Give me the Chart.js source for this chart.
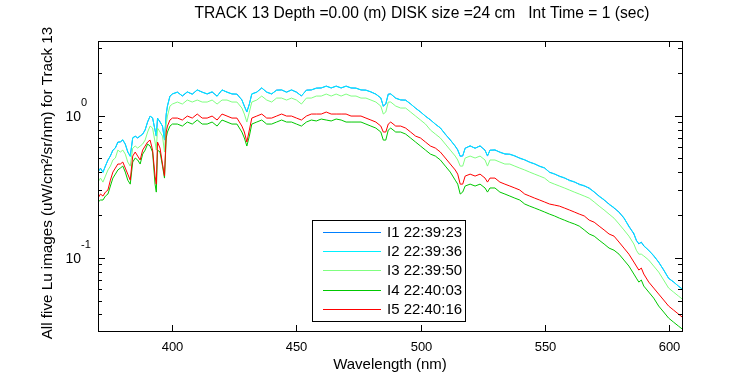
<!DOCTYPE html>
<html>
<head>
<meta charset="utf-8">
<script src="https://cdn.jsdelivr.net/npm/chart.js@4"></script>
<style>
  html, body { margin: 0; padding: 0; background: #fff; }
  #chart { display: block; }
</style>
</head>
<body>
<canvas id="chart" width="750" height="375"></canvas>
<script>
// wavelength grid (nm), denser around absorption lines
const wavelengths = [
  370, 371, 372, 373, 374, 375, 376, 377, 378, 379,
  380, 381, 382, 383, 384, 385, 386, 387, 388, 389,
  390, 391, 392, 393, 393.5, 394, 395, 396, 396.8, 397.5,
  398, 399, 400, 402, 404, 406, 408, 410, 412, 414,
  416, 418, 420, 422, 424, 426, 428, 429, 430, 431,
  432, 434, 436, 438, 440, 442, 444, 446, 448, 450,
  452, 454, 456, 458, 460, 462, 464, 466, 468, 470,
  472, 474, 476, 478, 480, 482, 484, 485, 486, 487,
  488, 490, 492, 494, 496, 498, 500, 502, 504, 506,
  508, 510, 512, 514, 515, 516, 517, 518, 520, 522,
  524, 526, 527, 528, 530, 532, 534, 536, 538, 540,
  542, 544, 546, 548, 550, 552, 554, 556, 558, 560,
  562, 564, 566, 568, 570, 572, 574, 576, 578, 580,
  582, 584, 586, 587, 588, 589, 590, 592, 594, 596,
  598, 600, 602, 604, 606
];

const lu1 = [
  0.401, 0.428, 0.401, 0.442, 0.488, 0.520, 0.573, 0.592, 0.653, 0.653,
  0.674, 0.632, 0.555, 0.520, 0.697, 0.719, 0.697, 0.719, 0.743, 0.793,
  0.903, 0.995, 0.963, 0.793, 0.719, 0.963, 0.903, 0.846, 0.674, 1.028,
  1.170, 1.376, 1.422, 1.469, 1.376, 1.469, 1.422, 1.517, 1.469, 1.422,
  1.469, 1.376, 1.517, 1.469, 1.422, 1.422, 1.290, 1.170, 1.062, 1.209,
  1.422, 1.469, 1.567, 1.469, 1.422, 1.517, 1.517, 1.469, 1.517, 1.469,
  1.376, 1.517, 1.517, 1.567, 1.567, 1.619, 1.567, 1.619, 1.567, 1.619,
  1.567, 1.567, 1.517, 1.517, 1.469, 1.422, 1.332, 1.170, 1.209, 1.422,
  1.422, 1.332, 1.290, 1.290, 1.209, 1.133, 1.062, 0.995, 0.933, 0.874,
  0.819, 0.743, 0.674, 0.612, 0.573, 0.520, 0.520, 0.592, 0.612, 0.592,
  0.612, 0.573, 0.520, 0.573, 0.573, 0.555, 0.537, 0.537, 0.520, 0.504,
  0.488, 0.472, 0.457, 0.442, 0.428, 0.401, 0.388, 0.376, 0.364, 0.352,
  0.341, 0.330, 0.320, 0.310, 0.290, 0.272, 0.255, 0.239, 0.224, 0.210,
  0.190, 0.167, 0.147, 0.133, 0.125, 0.129, 0.121, 0.113, 0.103, 0.0933,
  0.0819, 0.0719, 0.0674, 0.0632, 0.0592
];

const lu2 = [
  0.405, 0.425, 0.398, 0.446, 0.485, 0.524, 0.569, 0.597, 0.648, 0.658,
  0.679, 0.628, 0.559, 0.516, 0.702, 0.714, 0.701, 0.724, 0.738, 0.798,
  0.909, 0.990, 0.969, 0.788, 0.724, 0.957, 0.909, 0.841, 0.679, 1.022,
  1.177, 1.368, 1.430, 1.461, 1.384, 1.476, 1.414, 1.525, 1.461, 1.430,
  1.477, 1.368, 1.525, 1.461, 1.430, 1.414, 1.297, 1.163, 1.068, 1.202,
  1.430, 1.461, 1.575, 1.461, 1.430, 1.509, 1.525, 1.461, 1.525, 1.461,
  1.384, 1.509, 1.525, 1.559, 1.575, 1.611, 1.575, 1.611, 1.575, 1.611,
  1.575, 1.559, 1.525, 1.509, 1.477, 1.414, 1.340, 1.163, 1.216, 1.414,
  1.430, 1.325, 1.297, 1.283, 1.216, 1.127, 1.068, 0.989, 0.939, 0.869,
  0.824, 0.738, 0.679, 0.608, 0.577, 0.516, 0.524, 0.588, 0.616, 0.588,
  0.616, 0.569, 0.524, 0.569, 0.577, 0.551, 0.541, 0.533, 0.524, 0.500,
  0.491, 0.469, 0.460, 0.439, 0.431, 0.398, 0.391, 0.373, 0.367, 0.349,
  0.344, 0.327, 0.323, 0.307, 0.292, 0.270, 0.257, 0.237, 0.226, 0.208,
  0.192, 0.165, 0.149, 0.132, 0.126, 0.128, 0.122, 0.112, 0.104, 0.0926,
  0.0825, 0.0713, 0.0679, 0.0627, 0.0597
];

const lu3 = [
  0.341, 0.364, 0.341, 0.376, 0.415, 0.442, 0.488, 0.504, 0.573, 0.555,
  0.573, 0.537, 0.472, 0.442, 0.592, 0.612, 0.592, 0.612, 0.632, 0.674,
  0.768, 0.846, 0.819, 0.653, 0.573, 0.819, 0.768, 0.719, 0.555, 0.874,
  0.995, 1.170, 1.209, 1.249, 1.209, 1.290, 1.249, 1.290, 1.249, 1.249,
  1.290, 1.209, 1.290, 1.290, 1.249, 1.249, 1.133, 1.028, 0.903, 1.062,
  1.249, 1.290, 1.376, 1.290, 1.249, 1.332, 1.332, 1.290, 1.332, 1.290,
  1.209, 1.332, 1.332, 1.376, 1.376, 1.422, 1.376, 1.422, 1.376, 1.422,
  1.376, 1.376, 1.332, 1.332, 1.290, 1.249, 1.170, 1.028, 1.062, 1.249,
  1.249, 1.170, 1.133, 1.133, 1.062, 0.995, 0.933, 0.874, 0.793, 0.743,
  0.697, 0.632, 0.573, 0.520, 0.488, 0.442, 0.442, 0.504, 0.520, 0.504,
  0.520, 0.488, 0.442, 0.488, 0.488, 0.472, 0.457, 0.457, 0.442, 0.428,
  0.415, 0.401, 0.388, 0.376, 0.364, 0.341, 0.330, 0.320, 0.310, 0.300,
  0.290, 0.281, 0.272, 0.263, 0.247, 0.231, 0.217, 0.203, 0.190, 0.173,
  0.157, 0.142, 0.125, 0.113, 0.106, 0.106, 0.103, 0.0963, 0.0874, 0.0793,
  0.0697, 0.0612, 0.0573, 0.0537, 0.0504
];

const lu4 = [
  0.247, 0.255, 0.255, 0.272, 0.281, 0.320, 0.364, 0.388, 0.415, 0.428,
  0.442, 0.401, 0.352, 0.330, 0.472, 0.504, 0.488, 0.457, 0.537, 0.573,
  0.632, 0.612, 0.555, 0.330, 0.290, 0.573, 0.555, 0.442, 0.364, 0.697,
  0.768, 0.846, 0.874, 0.874, 0.846, 0.903, 0.874, 0.933, 0.874, 0.874,
  0.903, 0.846, 0.933, 0.903, 0.874, 0.874, 0.768, 0.697, 0.612, 0.719,
  0.874, 0.903, 0.933, 0.874, 0.874, 0.903, 0.933, 0.903, 0.903, 0.874,
  0.846, 0.903, 0.933, 0.919, 0.948, 0.933, 0.919, 0.948, 0.933, 0.903,
  0.903, 0.903, 0.903, 0.874, 0.846, 0.819, 0.768, 0.674, 0.674, 0.793,
  0.819, 0.768, 0.768, 0.743, 0.697, 0.653, 0.612, 0.573, 0.537, 0.520,
  0.488, 0.442, 0.401, 0.352, 0.330, 0.281, 0.290, 0.320, 0.330, 0.320,
  0.330, 0.310, 0.290, 0.310, 0.310, 0.290, 0.281, 0.272, 0.263, 0.255,
  0.239, 0.231, 0.224, 0.217, 0.210, 0.203, 0.197, 0.190, 0.184, 0.178,
  0.173, 0.167, 0.157, 0.147, 0.142, 0.133, 0.125, 0.117, 0.113, 0.106,
  0.0963, 0.0874, 0.0768, 0.0719, 0.0674, 0.0697, 0.0632, 0.0573, 0.0520, 0.0457,
  0.0415, 0.0376, 0.0352, 0.0330, 0.0310
];

const lu5 = [
  0.263, 0.281, 0.272, 0.290, 0.300, 0.352, 0.401, 0.428, 0.457, 0.457,
  0.472, 0.428, 0.388, 0.352, 0.520, 0.555, 0.520, 0.488, 0.573, 0.612,
  0.653, 0.674, 0.573, 0.376, 0.330, 0.653, 0.592, 0.457, 0.376, 0.768,
  0.846, 0.933, 0.963, 0.963, 0.933, 0.995, 0.963, 1.028, 0.963, 0.963,
  0.995, 0.933, 1.028, 0.995, 0.963, 0.963, 0.846, 0.768, 0.653, 0.793,
  0.963, 0.995, 1.028, 0.963, 0.963, 0.995, 1.028, 0.995, 0.995, 0.963,
  0.933, 0.995, 1.028, 1.028, 1.028, 1.062, 1.028, 1.028, 1.028, 1.028,
  0.995, 0.995, 0.995, 0.963, 0.933, 0.903, 0.846, 0.768, 0.768, 0.874,
  0.903, 0.846, 0.846, 0.819, 0.768, 0.719, 0.697, 0.653, 0.612, 0.592,
  0.555, 0.504, 0.457, 0.415, 0.388, 0.330, 0.330, 0.376, 0.388, 0.376,
  0.388, 0.364, 0.341, 0.364, 0.364, 0.341, 0.330, 0.320, 0.310, 0.300,
  0.281, 0.272, 0.263, 0.255, 0.247, 0.239, 0.235, 0.231, 0.224, 0.217,
  0.210, 0.203, 0.197, 0.184, 0.178, 0.167, 0.157, 0.147, 0.142, 0.129,
  0.117, 0.106, 0.0933, 0.0874, 0.0819, 0.0846, 0.0768, 0.0674, 0.0612, 0.0555,
  0.0504, 0.0457, 0.0428, 0.0401, 0.0376
];

const seriesNames = ['I1 22:39:23', 'I2 22:39:36', 'I3 22:39:50', 'I4 22:40:03', 'I5 22:40:16'];
const seriesColors = ['#0080ff', '#00f0ff', '#80ff80', '#00c800', '#ff0000'];
const seriesValues = [lu1, lu2, lu3, lu4, lu5];

const xTicks = [400, 450, 500, 550, 600];
const xRange = [370, 605.4];
const yRange = [0.0305, 3.36];
const yLabelExps = [-1, 0];

const titleText = 'TRACK 13 Depth =0.00 (m) DISK size =24 cm   Int Time = 1 (sec)';
const xTitle = 'Wavelength (nm)';
const yTitle = 'All five Lu images (uW/cm\u00b2/sr/nm) for Track 13';

const FONT = '"Liberation Sans", Arial, sans-serif';

const matlabFrame = {
  id: 'matlabFrame',
  beforeDraw(chart) {
    const ctx = chart.ctx;
    ctx.save();
    ctx.fillStyle = '#fff';
    ctx.fillRect(0, 0, chart.width, chart.height);
    ctx.restore();
  },
  afterDraw(chart) {
    const { ctx, chartArea: a, scales: { x, y } } = chart;
    ctx.save();
    ctx.strokeStyle = '#000';
    ctx.fillStyle = '#000';
    ctx.lineWidth = 1;

    ctx.strokeRect(a.left + 0.5, a.top + 0.5, a.right - a.left, a.bottom - a.top);

    // x ticks, inward on bottom and top
    ctx.font = '13px ' + FONT;
    ctx.textAlign = 'center';
    ctx.textBaseline = 'middle';
    xTicks.forEach(v => {
      const px = Math.round(x.getPixelForValue(v)) + 0.5;
      ctx.beginPath();
      ctx.moveTo(px, a.bottom);
      ctx.lineTo(px, a.bottom - 6);
      ctx.moveTo(px, a.top);
      ctx.lineTo(px, a.top + 6);
      ctx.stroke();
      ctx.fillText(String(v), px, a.bottom + 16);
    });

    // log y ticks, majors at decades
    for (let e = -2; e <= 0; e++) {
      for (let k = 1; k <= 9; k++) {
        const v = k * Math.pow(10, e);
        if (v < yRange[0] || v > yRange[1]) continue;
        const py = Math.round(y.getPixelForValue(v)) + 0.5;
        const len = k === 1 ? 7 : 4;
        ctx.beginPath();
        ctx.moveTo(a.left, py);
        ctx.lineTo(a.left + len, py);
        ctx.moveTo(a.right, py);
        ctx.lineTo(a.right - len, py);
        ctx.stroke();
      }
    }
    yLabelExps.forEach(e => {
      const py = y.getPixelForValue(Math.pow(10, e));
      ctx.font = '14px ' + FONT;
      ctx.textAlign = 'right';
      ctx.textBaseline = 'middle';
      ctx.fillText('10', 81, py + 1);
      ctx.font = '11px ' + FONT;
      ctx.textAlign = 'left';
      ctx.fillText(String(e), 81, py - 13);
    });

    // titles
    ctx.font = '15.6px ' + FONT;
    ctx.textAlign = 'center';
    ctx.textBaseline = 'middle';
    ctx.fillText(titleText, 422, 14);
    ctx.font = '15px ' + FONT;
    ctx.fillText(xTitle, (a.left + a.right) / 2, 365);
    ctx.save();
    ctx.translate(48, 183);
    ctx.rotate(-Math.PI / 2);
    ctx.font = '15.2px ' + FONT;
    ctx.fillText(yTitle, 0, 0);
    ctx.restore();

    // legend box
    const lx = 312, ly = 220, lw = 153, lh = 101;
    ctx.fillStyle = '#fff';
    ctx.fillRect(lx, ly, lw, lh);
    ctx.strokeStyle = '#000';
    ctx.strokeRect(lx + 0.5, ly + 0.5, lw, lh);
    ctx.font = '15px ' + FONT;
    ctx.textAlign = 'left';
    ctx.textBaseline = 'middle';
    seriesNames.forEach((name, i) => {
      const ry = Math.round(232 + i * 19.2);
      ctx.fillStyle = seriesColors[i];
      ctx.fillRect(323, ry, 58, 1);
      ctx.fillStyle = '#000';
      ctx.fillText(name, 387, ry + 1);
    });
    ctx.restore();
  }
};

const datasets = seriesValues.map((vals, i) => ({
  label: seriesNames[i],
  data: wavelengths.map((w, j) => ({ x: w, y: vals[j] })),
  borderColor: seriesColors[i],
  borderWidth: 1,
  pointRadius: 0,
  tension: 0,
  fill: false,
  order: 5 - i
}));

new Chart(document.getElementById('chart'), {
  type: 'line',
  data: { datasets },
  options: {
    responsive: false,
    animation: false,
    devicePixelRatio: 1,
    layout: { padding: { left: 98, right: 68, top: 41, bottom: 44 } },
    plugins: { legend: { display: false }, tooltip: { enabled: false } },
    scales: {
      x: { type: 'linear', min: xRange[0], max: xRange[1], display: false },
      y: { type: 'logarithmic', min: yRange[0], max: yRange[1], display: false }
    }
  },
  plugins: [matlabFrame]
});
</script>
</body>
</html>
